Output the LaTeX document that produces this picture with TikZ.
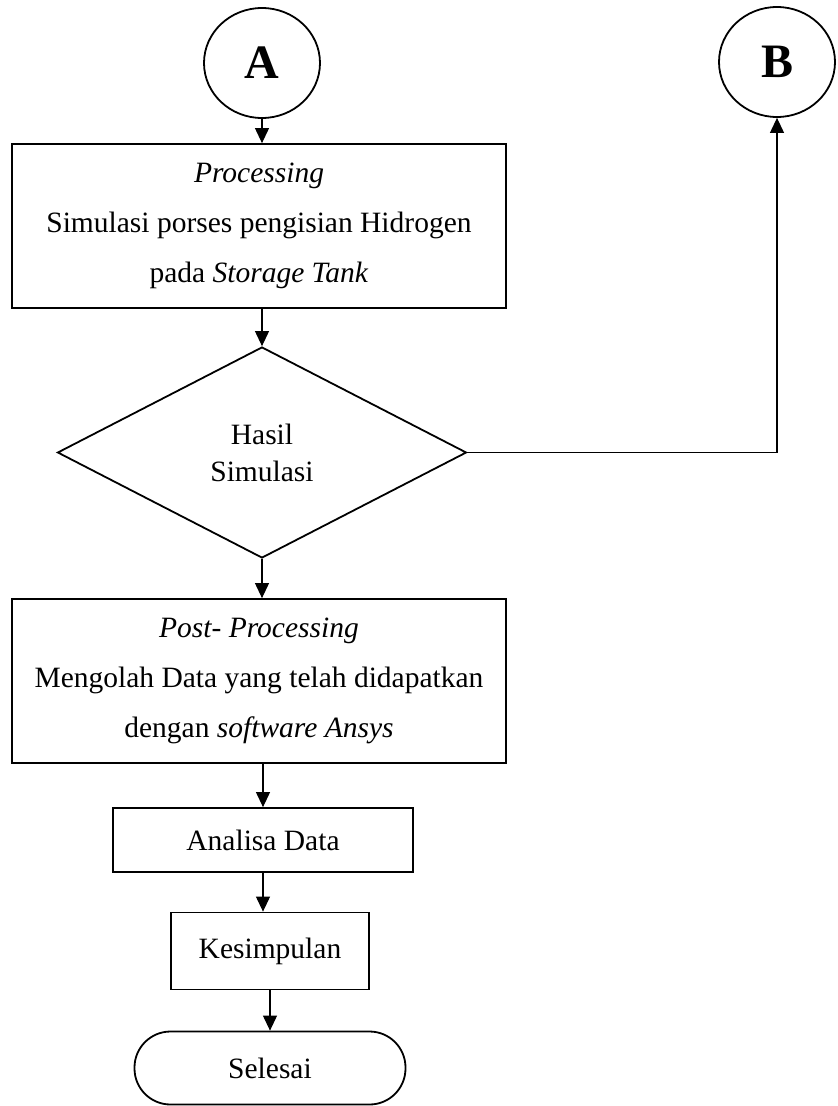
\documentclass[tikz,border=0pt]{standalone}
\usepackage{fontspec}
\setmainfont{Liberation Serif}
\usetikzlibrary{shapes,arrows.meta}
\tikzstyle{conn}=[ellipse, draw=black, line width=1.8pt, minimum width=116pt,
        minimum height=110pt, inner sep=0pt, font=\fontsize{48}{48}\selectfont\bfseries]
\tikzstyle{proc}=[rectangle, draw=black, line width=1.8pt, align=center, inner sep=0pt,
        font=\fontsize{29.5}{50}\selectfont]
\tikzstyle{decision}=[diamond, draw=black, line width=1.8pt, align=center, inner sep=0pt,
        minimum width=409pt, minimum height=211pt, font=\fontsize{29.5}{37}\selectfont]
\tikzstyle{term}=[rectangle, rounded corners=36pt, draw=black, line width=1.8pt,
        minimum width=271pt, minimum height=73pt, font=\fontsize{29.5}{32}\selectfont]
\tikzstyle{arr}=[-{Triangle[length=15pt,width=14pt]}, line width=1.1pt]

\begin{document}
\begin{tikzpicture}[x=1pt, y=-1pt]
\useasboundingbox (0,0) rectangle (838,1106);
\node [conn] (A) at (262,63) {A};
\node [conn] (B) at (777,62) {B};
\node [proc, minimum width=494pt, minimum height=164pt] (processing) at (259,226)
        {\textit{Processing}\\Simulasi porses pengisian Hidrogen\\pada \textit{Storage Tank}};
\node [decision] (hasil) at (262,452.5) {Hasil\\Simulasi};
\node [proc, minimum width=494pt, minimum height=164pt] (post) at (259,681)
        {\textit{Post- Processing}\\Mengolah Data yang telah didapatkan\\dengan \textit{software Ansys}};
\node [proc, minimum width=300pt, minimum height=64pt] (analisa) at (263,840) {Analisa Data};
\node [proc, minimum width=198pt, minimum height=77pt] (kesimpulan) at (270,951) {Kesimpulan};
\node [term] (selesai) at (270,1068) {Selesai};

\draw [arr] (A.south) -- (A.south |- processing.north);
\draw [arr] (processing.south -| hasil.north) -- (hasil.north);
\draw [arr] (hasil.east) -| (B.south);
\draw [arr] (hasil.south) -- (hasil.south |- post.north);
\draw [arr] (post.south -| analisa.north) -- (analisa.north);
\draw [arr] (analisa.south) -- (analisa.south |- kesimpulan.north);
\draw [arr] (kesimpulan.south -| selesai.north) -- (selesai.north);
\end{tikzpicture}
\end{document}
